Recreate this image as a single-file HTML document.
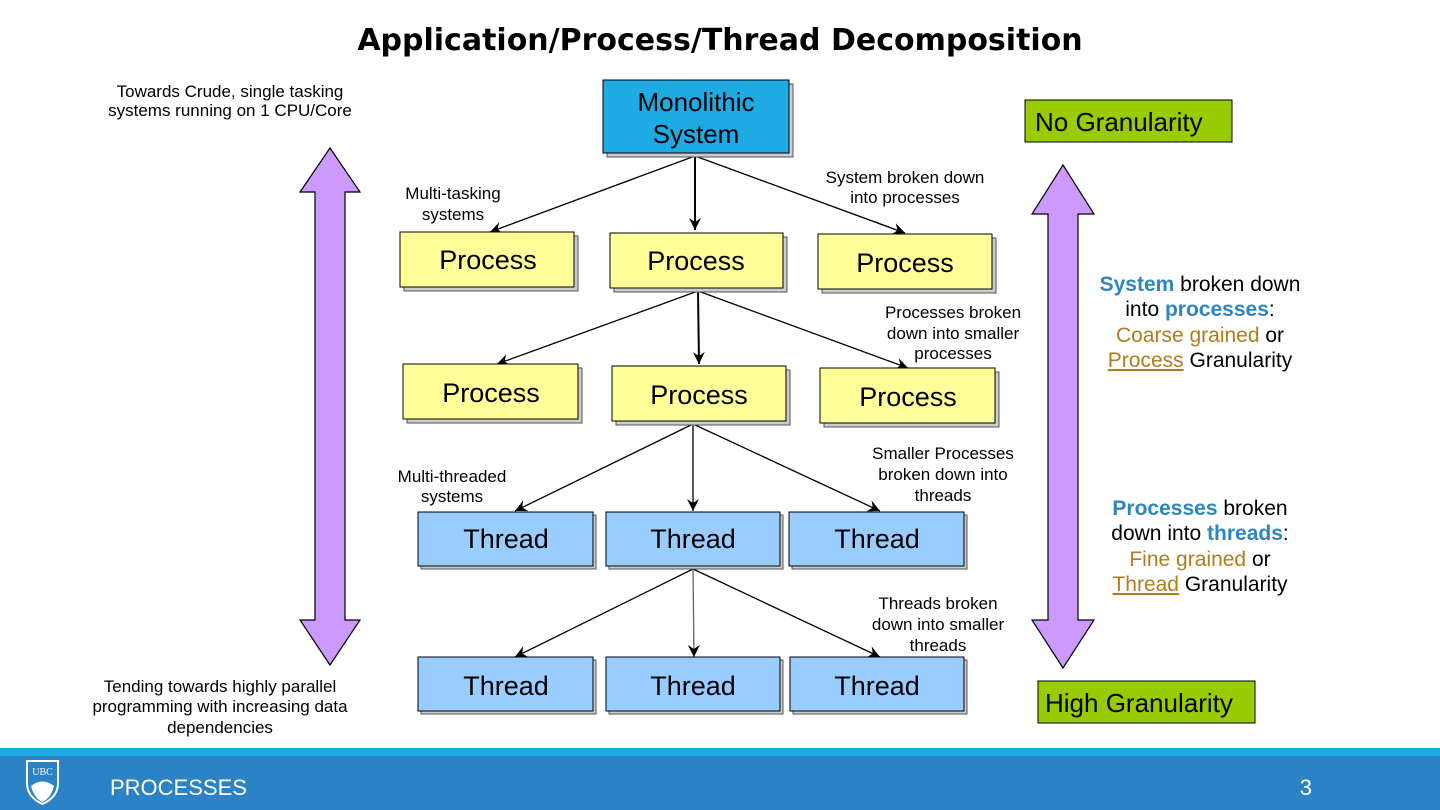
<!DOCTYPE html>
<html><head><meta charset="utf-8"><style>
html,body{margin:0;padding:0;background:#fff}
svg{display:block}
text{font-family:"Liberation Sans",sans-serif}
</style></head><body>
<svg width="1440" height="810" viewBox="0 0 1440 810" xmlns="http://www.w3.org/2000/svg">
<defs>
<marker id="a" markerWidth="14" markerHeight="14" refX="12" refY="6" orient="auto" markerUnits="userSpaceOnUse">
<path d="M0,0 L12,6 L0,12 L4,6 Z" fill="#000"/>
</marker>
</defs>
<text x="720" y="50" text-anchor="middle" font-size="30" font-weight="bold" style="font-family:'DejaVu Sans',sans-serif">Application/Process/Thread Decomposition</text>

<g font-size="17" text-anchor="middle">
<text x="230" y="97">Towards Crude, single tasking</text>
<text x="230" y="116">systems running on 1 CPU/Core</text>
<text x="220" y="692">Tending towards highly parallel</text>
<text x="220" y="712">programming with increasing data</text>
<text x="220" y="733">dependencies</text>
</g>

<polygon points="330,148 360,192 345,192 345,620 360,620 330,665 300,620 315,620 315,192 300,192" fill="#cc99ff" stroke="#000" stroke-width="1.2"/>
<polygon points="1063,165 1094,214 1078,214 1078,620 1094,620 1063,668 1032,620 1048,620 1048,214 1032,214" fill="#cc99ff" stroke="#000" stroke-width="1.2"/>

<rect x="1025" y="100" width="207" height="42" fill="#99cc00" stroke="#000"/>
<text x="1035" y="131" font-size="26">No Granularity</text>
<rect x="1038" y="681" width="217" height="42" fill="#99cc00" stroke="#000"/>
<text x="1045" y="712" font-size="26">High Granularity</text>

<g font-size="21" text-anchor="middle">
<text x="1200" y="291"><tspan fill="#2e86c1" font-weight="bold">System</tspan> broken down</text>
<text x="1200" y="316">into <tspan fill="#2e86c1" font-weight="bold">processes</tspan>:</text>
<text x="1200" y="342"><tspan fill="#b07d1e">Coarse grained</tspan> or</text>
<text x="1200" y="367"><tspan fill="#b07d1e" text-decoration="underline">Process</tspan> Granularity</text>
<text x="1200" y="515"><tspan fill="#2e86c1" font-weight="bold">Processes</tspan> broken</text>
<text x="1200" y="540">down into <tspan fill="#2e86c1" font-weight="bold">threads</tspan>:</text>
<text x="1200" y="566"><tspan fill="#b07d1e">Fine grained</tspan> or</text>
<text x="1200" y="591"><tspan fill="#b07d1e" text-decoration="underline">Thread</tspan> Granularity</text>
</g>

<g font-size="17" text-anchor="middle">
<text x="453" y="199">Multi-tasking</text>
<text x="453" y="220">systems</text>
<text x="905" y="183">System broken down</text>
<text x="905" y="203">into processes</text>
<text x="953" y="318">Processes broken</text>
<text x="953" y="339">down into smaller</text>
<text x="953" y="359">processes</text>
<text x="943" y="459">Smaller Processes</text>
<text x="943" y="480">broken down into</text>
<text x="943" y="501">threads</text>
<text x="452" y="482">Multi-threaded</text>
<text x="452" y="502">systems</text>
<text x="938" y="609">Threads broken</text>
<text x="938" y="630">down into smaller</text>
<text x="938" y="651">threads</text>
</g>

<g stroke="#000" stroke-width="1.3" fill="none" marker-end="url(#a)">
<line x1="695" y1="156" x2="490" y2="232"/>
<line x1="695" y1="156" x2="695" y2="230" stroke-width="2"/>
<line x1="695" y1="156" x2="905" y2="233"/>
<line x1="698" y1="291" x2="497" y2="364"/>
<line x1="698" y1="291" x2="699" y2="364" stroke-width="2"/>
<line x1="698" y1="291" x2="908" y2="368"/>
<line x1="693" y1="424" x2="515" y2="511"/>
<line x1="693" y1="424" x2="693" y2="511"/>
<line x1="693" y1="424" x2="880" y2="511"/>
<line x1="693" y1="569" x2="515" y2="657"/>
<line x1="693" y1="569" x2="694" y2="657" stroke="#666"/>
<line x1="693" y1="569" x2="880" y2="657"/>
</g>

<g stroke="#000" stroke-width="1">
<g fill="#ccc" stroke="#555">
<rect x="607" y="84" width="186" height="73"/>
<rect x="404" y="236" width="174" height="55"/><rect x="614" y="237" width="173" height="55"/><rect x="822" y="238" width="174" height="55"/>
<rect x="407" y="368" width="175" height="55"/><rect x="616" y="370" width="174" height="55"/><rect x="824" y="372" width="175" height="55"/>
<rect x="421" y="515" width="175" height="54"/><rect x="609" y="515" width="174" height="54"/><rect x="792" y="515" width="175" height="54"/>
<rect x="421" y="660" width="175" height="54"/><rect x="609" y="660" width="174" height="54"/><rect x="793" y="660" width="174" height="54"/>
</g>
<rect x="603" y="80" width="186" height="73" fill="#1eaae2"/>
<g fill="#ffff99">
<rect x="400" y="232" width="174" height="55"/><rect x="610" y="233" width="173" height="55"/><rect x="818" y="234" width="174" height="55"/>
<rect x="403" y="364" width="175" height="55"/><rect x="612" y="366" width="174" height="55"/><rect x="820" y="368" width="175" height="55"/>
</g>
<g fill="#99ccff">
<rect x="418" y="512" width="175" height="54"/><rect x="606" y="512" width="174" height="54"/><rect x="789" y="512" width="175" height="54"/>
<rect x="418" y="657" width="175" height="54"/><rect x="606" y="657" width="174" height="54"/><rect x="790" y="657" width="174" height="54"/>
</g>
</g>
<g font-size="27" text-anchor="middle">
<text x="696" y="111" font-size="26">Monolithic</text>
<text x="696" y="143" font-size="26">System</text>
<text x="488" y="269">Process</text><text x="696" y="270">Process</text><text x="905" y="272">Process</text>
<text x="491" y="402">Process</text><text x="699" y="404">Process</text><text x="908" y="406">Process</text>
<text x="506" y="548">Thread</text><text x="693" y="548">Thread</text><text x="877" y="548">Thread</text>
<text x="506" y="695">Thread</text><text x="693" y="695">Thread</text><text x="877" y="695">Thread</text>
</g>

<rect x="0" y="748" width="1440" height="8" fill="#1eaae2"/>
<rect x="0" y="756" width="1440" height="54" fill="#2b82c5"/>
<path d="M27,761 h31 v22 q0,14 -15.5,21 q-15.5,-7 -15.5,-21 z" fill="none" stroke="#fff" stroke-width="2"/>
<text x="42.5" y="775" text-anchor="middle" font-size="10" fill="#fff" style="font-family:'Liberation Serif',serif">UBC</text>
<path d="M31,786 q11.5,-9 23,0 q-3,12 -11.5,16 q-8.5,-4 -11.5,-16z" fill="#fff"/>
<text x="110" y="795" font-size="22" fill="#fff">PROCESSES</text>
<text x="1312" y="795" font-size="22" fill="#fff" text-anchor="end">3</text>
</svg>
</body></html>
